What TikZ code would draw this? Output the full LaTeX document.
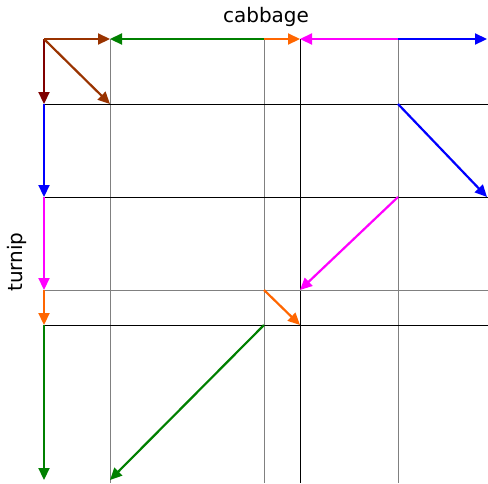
\documentclass[tikz,border=0pt]{standalone}
\usepackage{fontspec}
\setmainfont{DejaVu Sans}
\usetikzlibrary{arrows.meta}
\definecolor{cbrown}{RGB}{153,51,0}
\definecolor{cdred}{RGB}{128,0,0}
\definecolor{cgreen}{RGB}{0,128,0}
\definecolor{corange}{RGB}{255,102,0}
\definecolor{cmag}{RGB}{255,0,255}
\definecolor{cblue}{RGB}{0,0,255}
\tikzset{
  gridg/.style={draw=gray,line width=1pt},
  gridb/.style={draw=black,line width=1pt},
  arr/.style={line width=2.2pt,-{Triangle[length=12pt,width=11pt]}},
  lbl/.style={font=\fontsize{20}{23}\selectfont,inner sep=0pt}
}
\begin{document}
\begin{tikzpicture}[x=1pt,y=-1pt]
\useasboundingbox (0,0) rectangle (488,483);
% grid coordinates
\coordinate (O) at (44,39);
\coordinate (t1) at (110,39);
\coordinate (t2) at (264,39);
\coordinate (t3) at (300,39);
\coordinate (t4) at (398,39);
\coordinate (t5) at (487,39);
\coordinate (l1) at (44,104);
\coordinate (l2) at (44,197);
\coordinate (l3) at (44,290);
\coordinate (l4) at (44,325);
\coordinate (l5) at (44,480);
\coordinate (b1) at (110,483);
\coordinate (b2) at (264,483);
\coordinate (b3) at (300,483);
\coordinate (b4) at (398,483);
\coordinate (r1) at (488,104);
\coordinate (r2) at (488,197);
\coordinate (r3) at (488,290);
\coordinate (r4) at (488,325);
% grid lines
\draw[gridg] (t1) -- (b1);
\draw[gridg] (t2) -- (b2);
\draw[gridb] (t3) -- (b3);
\draw[gridg] (t4) -- (b4);
\draw[gridb] (l1) -- (r1);
\draw[gridb] (l2) -- (r2);
\draw[gridg] (l3) -- (r3);
\draw[gridb] (l4) -- (r4);
% diagonal targets
\coordinate (d1) at (110,104);
\coordinate (d2s) at (398,104);
\coordinate (d2) at (487,197);
\coordinate (d3s) at (398,197);
\coordinate (d3) at (300,290);
\coordinate (d4s) at (264,290);
\coordinate (d4) at (300,325);
\coordinate (d5s) at (264,325);
\coordinate (d5) at (110,480);
% top row arrows
\draw[arr,cbrown] (O) -- (t1);
\draw[arr,cgreen] (t2) -- (t1);
\draw[arr,corange] (t2) -- (t3);
\draw[arr,cmag] (t4) -- (t3);
\draw[arr,cblue] (t4) -- (t5);
% left column arrows
\draw[arr,cdred] (O) -- (l1);
\draw[arr,cblue] (l1) -- (l2);
\draw[arr,cmag] (l2) -- (l3);
\draw[arr,corange] (l3) -- (l4);
\draw[arr,cgreen] (l4) -- (l5);
% diagonals
\draw[arr,cbrown] (O) -- (d1);
\draw[arr,cblue] (d2s) -- (d2);
\draw[arr,cmag] (d3s) -- (d3);
\draw[arr,corange] (d4s) -- (d4);
\draw[arr,cgreen] (d5s) -- (d5);
% labels
\node[lbl] (cab) at (266,17) {cabbage};
\node[lbl,rotate=90] (tur) at (17,262) {turnip};
\end{tikzpicture}
\end{document}
